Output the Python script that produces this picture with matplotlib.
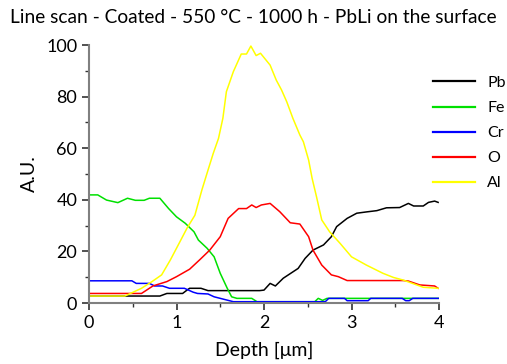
import matplotlib
matplotlib.use("Agg")
import matplotlib.pyplot as plt
from matplotlib.ticker import MultipleLocator

plt.rcParams['font.family'] = ['Lato', 'DejaVu Sans']

title = "Line scan - Coated - 550 °C - 1000 h - PbLi on the surface"

pb_x = [0, 0.4, 0.81, 0.89, 1.07, 1.12, 1.15, 1.28, 1.36, 1.95, 2.0, 2.07, 2.13, 2.22, 2.39, 2.47, 2.56,
        2.68, 2.77, 2.83, 2.95, 3.06, 3.17, 3.29, 3.40, 3.55, 3.65, 3.71, 3.82, 3.88, 3.95, 3.99]
pb_y = [2.7, 2.7, 2.7, 3.7, 3.7, 5.0, 5.7, 5.7, 4.8, 4.8, 5.0, 7.6, 6.6, 9.6, 13.4, 17.3, 20.5,
        22.5, 25.7, 29.6, 32.8, 34.8, 35.3, 35.8, 36.9, 37.0, 38.6, 37.6, 37.6, 39.0, 39.5, 39.0]

fe_x = [0, 0.1, 0.2, 0.33, 0.44, 0.53, 0.63, 0.69, 0.81, 0.91, 1.0, 1.1, 1.2, 1.25, 1.35, 1.43, 1.50,
        1.58, 1.63, 1.69, 1.86, 1.92, 2.0, 2.58, 2.62, 2.67, 2.72, 2.75, 3.60, 3.65, 3.70, 4.0]
fe_y = [41.9, 41.9, 39.9, 38.9, 40.6, 39.8, 39.8, 40.6, 40.6, 36.6, 33.4, 30.9, 27.6, 24.4, 21.2, 17.9, 11.5,
        5.7, 2.4, 1.8, 1.8, 0.5, 0.5, 0.5, 1.8, 1.0, 1.8, 1.8, 1.8, 1.8, 1.8, 1.8]

cr_x = [0, 0.49, 0.54, 0.69, 0.75, 0.84, 0.92, 1.09, 1.15, 1.19, 1.24, 1.36, 1.43, 1.50, 1.65, 2.70,
        2.74, 2.92, 2.95, 3.19, 3.22, 3.58, 3.62, 3.66, 3.70, 4.0]
cr_y = [8.6, 8.6, 7.6, 7.6, 6.6, 6.6, 5.7, 5.7, 4.8, 4.2, 3.7, 3.5, 2.4, 1.8, 0.5, 0.5,
        1.8, 1.8, 0.9, 0.9, 1.8, 1.8, 0.9, 0.9, 1.8, 1.8]

o_x = [0, 0.6, 0.73, 0.89, 1.0, 1.15, 1.27, 1.38, 1.50, 1.59, 1.71, 1.80, 1.86, 1.91, 1.97, 2.07, 2.18,
       2.30, 2.41, 2.51, 2.56, 2.66, 2.77, 2.85, 2.95, 3.59, 3.65, 3.78, 3.95, 3.99]
o_y = [3.7, 3.7, 6.6, 8.3, 10.2, 13.1, 16.9, 20.5, 25.7, 32.8, 36.6, 36.6, 38.0, 37.0, 38.0, 38.6, 35.4,
       31.1, 30.6, 25.7, 20.5, 14.7, 10.9, 10.2, 8.7, 8.7, 8.5, 7.0, 6.6, 5.7]

al_x = [0, 0.41, 0.60, 0.72, 0.83, 0.93, 1.04, 1.12, 1.21, 1.29, 1.36, 1.42, 1.48, 1.53, 1.57, 1.65,
        1.74, 1.80, 1.85, 1.91, 1.96, 2.07, 2.14, 2.20, 2.26, 2.33, 2.41, 2.45, 2.51, 2.55, 2.60, 2.66,
        2.75, 2.87, 3.00, 3.17, 3.36, 3.48, 3.59, 3.82, 3.99]
al_y = [2.7, 2.7, 5.7, 8.3, 10.9, 16.7, 23.8, 29.0, 34.0, 43.8, 51.5, 58.0, 63.8, 71.6, 81.9, 89.7,
        96.5, 96.5, 99.6, 95.9, 96.8, 92.2, 86.4, 82.6, 78.0, 71.6, 65.1, 62.5, 55.4, 48.3, 41.2, 32.2,
        27.6, 23.1, 17.9, 14.7, 11.5, 9.9, 8.9, 6.1, 5.7]

series = [("Pb", pb_x, pb_y, "#000000"),
          ("Fe", fe_x, fe_y, "#00e000"),
          ("Cr", cr_x, cr_y, "#0000ff"),
          ("O", o_x, o_y, "#ff0000"),
          ("Al", al_x, al_y, "#ffff00")]

fig = plt.figure(figsize=(5.07, 3.64), dpi=100)
ax = fig.add_axes([89/507, 61/364, 350/507, 258/364])

for name, xs, ys, c in series:
    ax.plot(xs, ys, color=c, lw=1.1, label=name)

ax.set_xlim(0, 4)
ax.set_ylim(0, 100)
ax.xaxis.set_major_locator(MultipleLocator(1))
ax.xaxis.set_minor_locator(MultipleLocator(0.5))
ax.yaxis.set_major_locator(MultipleLocator(20))
ax.yaxis.set_minor_locator(MultipleLocator(10))
for s in ("top", "right"):
    ax.spines[s].set_visible(False)
for s in ("left", "bottom"):
    ax.spines[s].set_color("#808080")
    ax.spines[s].set_linewidth(1.5)
ax.tick_params(which="major", direction="out", length=5, width=1.2, labelsize=13, color="#333333")
ax.tick_params(which="minor", direction="out", length=3, width=1.0, color="#333333")

ax.set_xlabel("Depth [μm]", fontsize=14, labelpad=8)
ax.set_ylabel("A.U.", fontsize=14, labelpad=6)
fig.text(0.5, 0.975, title, ha="center", va="top", fontsize=13.8)

leg = ax.legend(loc="upper left", bbox_to_anchor=(0.965, 0.905), frameon=False, fontsize=11.5,
                handlelength=2.6, handletextpad=0.8, labelspacing=0.68, borderaxespad=0)
for h in leg.get_lines():
    h.set_linewidth(1.6)

fig.savefig("out.png", dpi=100)
